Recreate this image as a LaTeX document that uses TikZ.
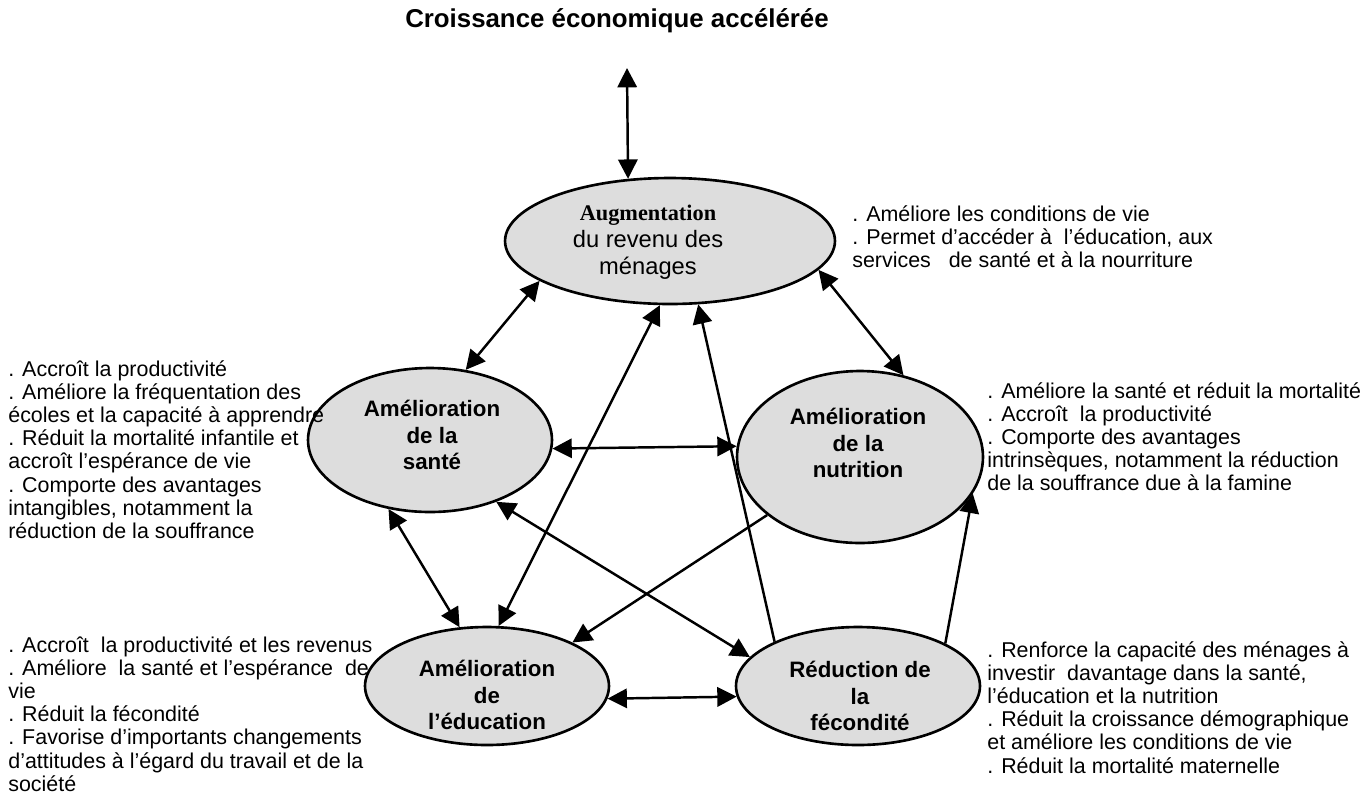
\documentclass[tikz,border=0pt]{standalone}
\usepackage{fontspec}
\setmainfont{Liberation Sans}
\newfontfamily\timesf{Liberation Serif}
\usetikzlibrary{shapes.geometric,arrows.meta}
\definecolor{ellfill}{RGB}{221,221,221}
\tikzset{
  ell/.style={ellipse,draw=black,line width=1.5pt,fill=ellfill,inner sep=0pt},
  etxt/.style={align=center,font=\fontsize{12.7pt}{15.3pt}\selectfont\bfseries,inner sep=0pt},
  side/.style={align=left,anchor=north west,font=\fontsize{12.2pt}{13.2pt}\selectfont,inner sep=0pt},
  conn/.style={line width=1.4pt,-{Triangle[length=11pt,width=11pt]}},
  dconn/.style={line width=1.4pt,{Triangle[length=11pt,width=11pt]}-{Triangle[length=11pt,width=11pt]}}
}
\begin{document}
\begin{tikzpicture}[x=0.02cm,y=-0.02cm]
\useasboundingbox (0,0) rectangle (1366,796);
% title
\node[font=\fontsize{14.7pt}{16pt}\selectfont\bfseries] (title) at (617,21) {Croissance économique accélérée};
\coordinate (gtip) at (627,68);
% ellipses
\node[ell,minimum width=6.6cm,minimum height=2.52cm] (T) at (670,241) {};
\node[ell,minimum width=4.88cm,minimum height=2.88cm] (S) at (430,440) {};
\node[ell,minimum width=4.92cm,minimum height=3.44cm] (N) at (860,457) {};
\node[ell,minimum width=4.88cm,minimum height=2.36cm] (E) at (487,686) {};
\node[ell,minimum width=4.88cm,minimum height=2.36cm] (F) at (858,686) {};
% ellipse texts
\node[etxt,font=\fontsize{13.5pt}{15.3pt}\selectfont] (Tt) at (648,242) {{\timesf\bfseries\fontsize{12.7pt}{15.3pt}\selectfont Augmentation}\\du revenu des\\ménages};
\node[etxt] (St) at (432,435) {Amélioration\\de la\\santé};
\node[etxt] (Nt) at (858,443) {Amélioration\\de la\\nutrition};
\node[etxt] (Et) at (487,695) {Amélioration\\de\\l’éducation};
\node[etxt] (Ft) at (860,696) {Réduction de\\la\\fécondité};
% side texts
\node[side] (Ttx) at (852,205) {. Améliore les conditions de vie\\. Permet d’accéder à\ \ l’éducation, aux\\services\ \ \ de santé et à la nourriture};
\node[side] (Stx) at (8,360) {. Accroît la productivité\\. Améliore la fréquentation des\\écoles et la capacité à apprendre\\. Réduit la mortalité infantile et\\accroît l’espérance de vie\\. Comporte des avantages\\intangibles, notamment la\\réduction de la souffrance};
\node[side] (Ntx) at (987,382) {. Améliore la santé et réduit la mortalité\\. Accroît\ \ la productivité\\. Comporte des avantages\\intrinsèques, notamment la réduction\\de la souffrance due à la famine};
\node[side] (Etx) at (8,636) {. Accroît\ \ la productivité et les revenus\\. Améliore\ \ la santé et l’espérance\ \ de\\vie\\. Réduit la fécondité\\. Favorise d’importants changements\\d’attitudes à l’égard du travail et de la\\société};
\node[side] (Ftx) at (987,641) {. Renforce la capacité des ménages à\\investir\ \ davantage dans la santé,\\l’éducation et la nutrition\\. Réduit la croissance démographique\\et améliore les conditions de vie\\. Réduit la mortalité maternelle};
% connectors
\draw[dconn] (gtip) -- (T.124.3);
\draw[dconn] (T.197.1) -- (S.63.1);
\draw[dconn] (T.349.3) -- (N.62.6);
\draw[dconn] (S.356.7) -- (N.175.4);
\draw[dconn] (E.79.8) -- (T.261.1);
\draw[dconn] (S.239.5) -- (E.115.4);
\draw[dconn] (S.317.6) -- (F.165.8);
\draw[conn] (F.152.0) -- (T.294.4);
\draw[conn] (N.212.2) -- (E.27.4);
\draw[dconn] (E.354.4) -- (F.185.7);
\draw[conn] (F.26.8) -- (N.342.8);
\end{tikzpicture}
\end{document}
